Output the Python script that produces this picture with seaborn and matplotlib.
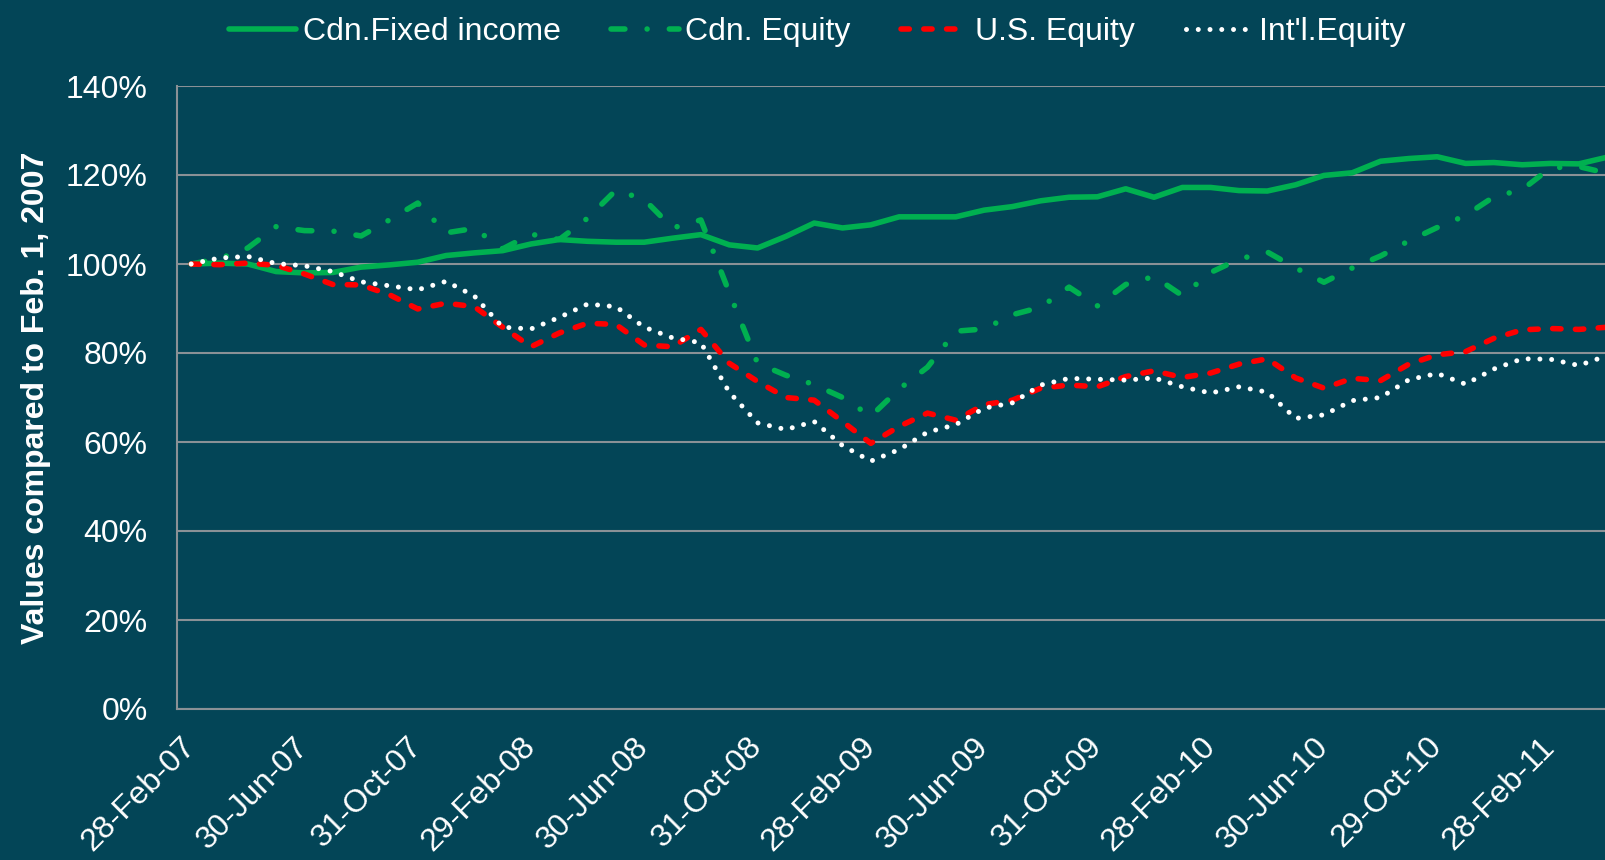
import matplotlib
matplotlib.use('Agg')
import matplotlib.pyplot as plt
import seaborn as sns
import numpy as np

# ---- data (monthly, Feb-2007 onward) ----
series_names = ['Cdn.Fixed income', 'Cdn. Equity', 'U.S. Equity', "Int'l.Equity"]

cdn_fixed = [100.0, 100.2, 100.0, 98.3, 98.0, 98.1, 99.3, 99.8, 100.4, 101.9,
             102.5, 103.0, 104.5, 105.5, 105.1, 104.9, 104.9, 105.8, 106.6, 104.3,
             103.6, 106.2, 109.2, 108.1, 108.8, 110.6, 110.6, 110.6, 112.1, 112.9,
             114.2, 115.0, 115.1, 116.9, 115.0, 117.2, 117.2, 116.5, 116.4, 117.8,
             119.9, 120.5, 123.1, 123.7, 124.1, 122.6, 122.8, 122.3, 122.6, 122.5, 124.0]

cdn_equity = [100.0, 101.2, 103.6, 108.4, 107.5, 107.4, 106.3, 109.9, 113.7, 107.0,
              108.0, 103.4, 106.7, 105.5, 110.3, 116.6, 114.5, 108.1, 109.9, 93.6,
              77.7, 75.0, 72.9, 70.0, 65.8, 71.9, 76.8, 84.9, 85.4, 88.6,
              90.3, 94.8, 90.6, 95.4, 97.2, 92.9, 98.1, 101.1, 102.7, 99.1,
              95.9, 99.1, 101.8, 105.2, 108.2, 110.9, 115.1, 116.7, 121.6, 121.9, 120.4]

us_equity = [100.0, 99.85, 100.2, 99.7, 97.75, 95.4, 95.3, 93.1, 89.9, 91.2,
             90.4, 85.8, 81.4, 84.5, 86.7, 86.4, 81.8, 81.4, 85.3, 77.7,
             73.6, 70.0, 69.4, 64.6, 59.7, 63.5, 66.5, 64.9, 68.4, 69.4,
             72.1, 72.8, 72.4, 74.7, 76.0, 74.5, 75.5, 77.5, 78.7, 74.4,
             72.1, 74.3, 73.8, 77.5, 79.6, 80.3, 83.3, 85.2, 85.5, 85.3, 85.8]

intl_equity = [100.0, 101.35, 101.7, 100.1, 99.6, 98.3, 96.0, 95.1, 94.2, 96.1,
               92.8, 85.8, 85.4, 88.0, 91.0, 90.4, 85.8, 83.4, 82.3, 71.2,
               64.3, 62.8, 64.6, 59.2, 55.7, 58.3, 62.2, 63.9, 67.6, 68.8,
               72.8, 74.3, 74.1, 73.9, 74.4, 72.4, 71.0, 72.4, 71.2, 65.3,
               66.1, 69.3, 70.0, 74.0, 75.4, 73.0, 76.4, 78.7, 78.6, 77.2, 79.4]

tick_labels = ['28-Feb-07', '30-Jun-07', '31-Oct-07', '29-Feb-08', '30-Jun-08',
               '31-Oct-08', '28-Feb-09', '30-Jun-09', '31-Oct-09', '28-Feb-10',
               '30-Jun-10', '29-Oct-10', '28-Feb-11']
tick_step = 4
y_ticks = [0, 20, 40, 60, 80, 100, 120, 140]

# ---- style ----
sns.set_theme(style='white')
plt.rcParams['font.family'] = ['Liberation Sans', 'DejaVu Sans']

BG = '#034557'
GRID = '#8a9196'
FS = 23

W, H = 1606, 860
fig = plt.figure(figsize=(W / 100, H / 100), dpi=100)
fig.patch.set_facecolor(BG)
ax = fig.add_axes([177 / W, 151 / H, 1 - 177 / W, 623 / H])
ax.set_facecolor(BG)

months = np.arange(len(cdn_fixed))
lw = 4.0
specs = [
    (cdn_fixed, '#00B050', '-', lw),
    (cdn_equity, '#00B050', (0, (2.5, 4.0, 0.001, 4.0)), lw),
    (us_equity, '#FF0000', (0, (1.5, 2.6)), lw),
    (intl_equity, '#FFFFFF', (0, (0.001, 2.35)), 3.6),
]
for name, (vals, color, ls, w) in zip(series_names, specs):
    sns.lineplot(x=months, y=vals, ax=ax, color=color, linewidth=w,
                 linestyle=ls, dash_capstyle='round', solid_capstyle='round',
                 solid_joinstyle='round', label=name, errorbar=None, sort=False)

ax.set_xlim(-0.5, 49.96)
ax.set_ylim(0, 140)
ax.set_yticks(y_ticks)
ax.set_yticklabels([f'{v}%' for v in y_ticks])
ax.set_xticks(months[::tick_step][:len(tick_labels)])
ax.set_xticklabels(tick_labels, rotation=45, ha='right', va='center',
                   rotation_mode='anchor')

ax.tick_params(axis='y', length=0, pad=21, labelsize=FS, colors='white')
ax.tick_params(axis='x', length=0, pad=24, labelsize=FS, colors='white')
ax.set_xlabel('')
ax.set_ylabel('Values compared to Feb. 1, 2007', fontsize=FS,
              fontweight='bold', color='white')
ax.yaxis.set_label_coords(-0.088, 0.5)

ax.yaxis.grid(True, color=GRID, linewidth=1.5)
ax.xaxis.grid(False)
for side in ['top', 'right']:
    ax.spines[side].set_visible(False)
for side in ['left', 'bottom']:
    ax.spines[side].set_color(GRID)
    ax.spines[side].set_linewidth(1.5)

leg = ax.legend(loc='center', bbox_to_anchor=(0.509, 0.963),
                bbox_transform=fig.transFigure, ncol=4, frameon=False,
                fontsize=FS, handlelength=2.1, handletextpad=0.2,
                columnspacing=1.6, labelcolor='white')

fig.savefig('out.png', dpi=100, facecolor=BG)
